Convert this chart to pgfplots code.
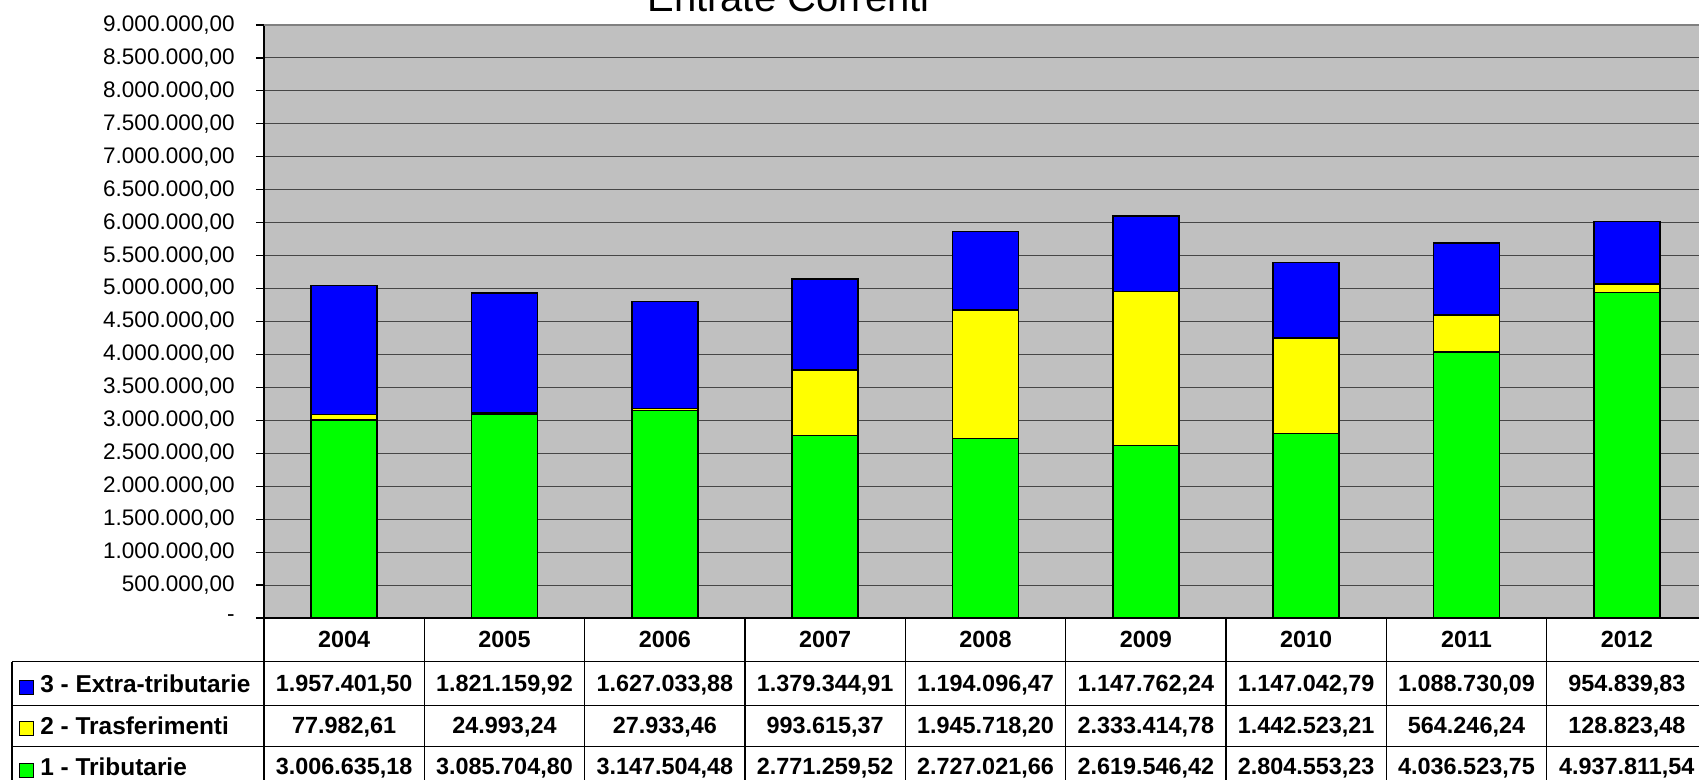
\documentclass[border=0pt]{standalone}
\usepackage{pgfplots}
\usepackage{pgfplotstable}
\pgfplotsset{compat=1.18}
\usepackage{fontspec}
\setmainfont{Liberation Sans}
\definecolor{plotbg}{RGB}{192,192,192}
\definecolor{gridc}{RGB}{70,70,70}
\definecolor{topc}{RGB}{128,128,128}
\definecolor{cgreen}{RGB}{0,255,0}
\definecolor{cyellow}{RGB}{255,255,0}
\definecolor{cblue}{RGB}{0,0,255}

\pgfplotstableread{
x trib trasf extra
0 3006635.18 77982.61 1957401.50
1 3085704.80 24993.24 1821159.92
2 3147504.48 27933.46 1627033.88
3 2771259.52 993615.37 1379344.91
4 2727021.66 1945718.20 1194096.47
5 2619546.42 2333414.78 1147762.24
6 2804553.23 1442523.21 1147042.79
7 4036523.75 564246.24 1088730.09
8 4937811.54 128823.48 954839.83
}\datatable

\begin{document}
\begin{tikzpicture}
\useasboundingbox (-132pt,-81pt) rectangle (717.5pt,309pt);
\clip (-132pt,-81pt) rectangle (717.5pt,309pt);
\begin{axis}[
  at={(0,0)}, anchor=south west,
  scale only axis, width=721.5pt, height=296.5pt,
  xmin=-0.5, xmax=8.5, ymin=0, ymax=9000000,
  ybar stacked, bar width=33pt,
  axis background/.style={fill=plotbg},
  axis x line*=bottom, axis y line*=left,
  axis line style={black, line width=0.7pt},
  xtick=\empty,
  ytick={0,500000,1000000,1500000,2000000,2500000,3000000,3500000,4000000,4500000,5000000,5500000,6000000,6500000,7000000,7500000,8000000,8500000,9000000},
  yticklabels={{-\hspace{12pt}},{500.000,00},{1.000.000,00},{1.500.000,00},{2.000.000,00},{2.500.000,00},{3.000.000,00},{3.500.000,00},{4.000.000,00},{4.500.000,00},{5.000.000,00},{5.500.000,00},{6.000.000,00},{6.500.000,00},{7.000.000,00},{7.500.000,00},{8.000.000,00},{8.500.000,00},{9.000.000,00}},
  ymajorgrids, major grid style={gridc, line width=0.5pt},
  ytick style={black, line width=0.6pt},
  major tick length=4pt,
  ytick align=outside,
  yticklabel style={font=\fontsize{11.25}{13}\selectfont, inner sep=0pt, anchor=east, xshift=-10.5pt},
  scaled y ticks=false,
  clip=false,
]
\addplot[fill=cgreen, draw=black, line width=0.7pt] table[x=x, y=trib]{\datatable};
\addplot[fill=cyellow, draw=black, line width=0.7pt] table[x=x, y=trasf]{\datatable};
\addplot[fill=cblue, draw=black, line width=0.7pt] table[x=x, y=extra]{\datatable};
\draw[topc, line width=0.8pt] (rel axis cs:0,1) -- (rel axis cs:1,1);
\end{axis}

% data table below the chart
\begin{scope}[line width=0.6pt]
\draw (-126pt,-21.85pt) -- (721.5pt,-21.85pt);
\draw (-126pt,-43.6pt) -- (721.5pt,-43.6pt);
\draw (-126pt,-64.4pt) -- (721.5pt,-64.4pt);
\draw (-126pt,-21.85pt) -- (-126pt,-95pt);
\foreach \k in {0,...,9} \draw ({\k*80.1667pt},0pt) -- ({\k*80.1667pt},-95pt);
\end{scope}

\tikzset{cell/.style={anchor=base, inner sep=0pt, font=\bfseries\fontsize{11.7}{14}\selectfont},
         leg/.style={anchor=base west, inner sep=0pt, font=\bfseries\fontsize{12.2}{14}\selectfont}}
\foreach \v [count=\i from 0] in {2004,2005,2006,2007,2008,2009,2010,2011,2012}
  \node[cell] at ({(\i+0.5)*80.1667pt},-14.65pt) {\v};
\foreach \v [count=\i from 0] in {{1.957.401,50},{1.821.159,92},{1.627.033,88},{1.379.344,91},{1.194.096,47},{1.147.762,24},{1.147.042,79},{1.088.730,09},{954.839,83}}
  \node[cell] at ({(\i+0.5)*80.1667pt},-36.85pt) {\v};
\foreach \v [count=\i from 0] in {{77.982,61},{24.993,24},{27.933,46},{993.615,37},{1.945.718,20},{2.333.414,78},{1.442.523,21},{564.246,24},{128.823,48}}
  \node[cell] at ({(\i+0.5)*80.1667pt},-57.65pt) {\v};
\foreach \v [count=\i from 0] in {{3.006.635,18},{3.085.704,80},{3.147.504,48},{2.771.259,52},{2.727.021,66},{2.619.546,42},{2.804.553,23},{4.036.523,75},{4.937.811,54}}
  \node[cell] at ({(\i+0.5)*80.1667pt},-78.5pt) {\v};

% legend keys
\draw[fill=cblue, line width=0.5pt] (-122.35pt,-38.5pt) rectangle ++(7pt,7pt);
\draw[fill=cyellow, line width=0.5pt] (-122.35pt,-58.9pt) rectangle ++(7pt,7pt);
\draw[fill=cgreen, line width=0.5pt] (-122.35pt,-79.7pt) rectangle ++(7pt,7pt);
\node[leg] at (-112pt,-37.2pt) {3 - Extra-tributarie};
\node[leg] at (-112pt,-58.2pt) {2 - Trasferimenti};
\node[leg] at (-112pt,-79pt) {1 - Tributarie};

% title (cut off at top as in the reference)
\node[anchor=base, inner sep=0pt, font=\fontsize{20}{24}\selectfont] at (262.25pt,303pt) {Entrate Correnti};
\end{tikzpicture}
\end{document}
